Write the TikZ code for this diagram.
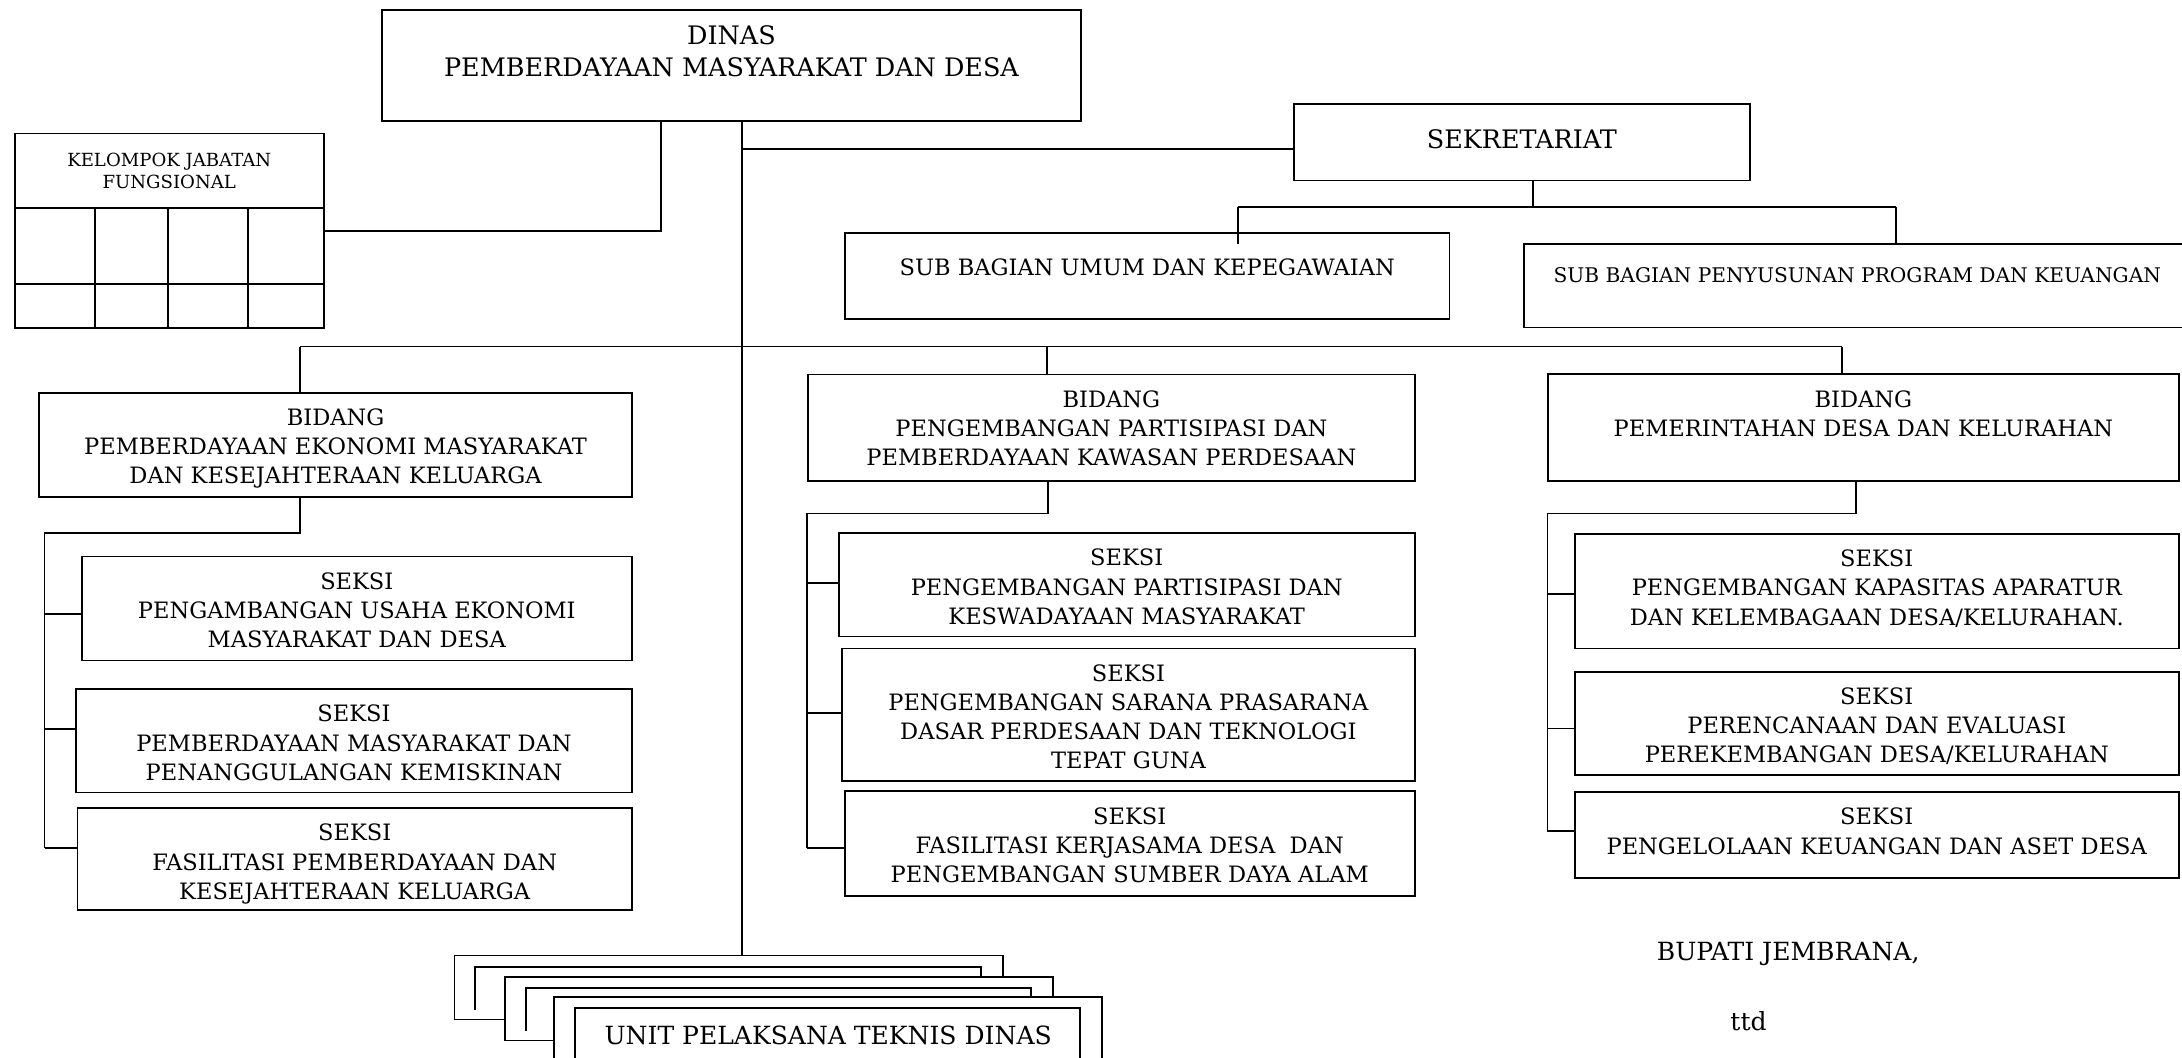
\documentclass[tikz,border=0pt]{standalone}
\usepackage{fontspec}
\setmainfont{DejaVu Serif}
\usetikzlibrary{positioning}

\tikzset{
  kotak/.style={draw, line width=1.3pt, anchor=north west, inner sep=0pt},
  kartu/.style={kotak, fill=white},
  teks/.style={align=center, inner sep=0pt, font=\fontsize{16.2}{21}\selectfont},
  teksbesar/.style={teks, font=\fontsize{18.3}{23}\selectfont},
  garis/.style={line width=1.3pt},
}

\begin{document}
\begin{tikzpicture}[x=1pt,y=-1pt]
\useasboundingbox (0,0) rectangle (1568,760);
\clip (0,0) rectangle (1568,760);

% kepala dinas
\node[kotak, minimum width=502pt, minimum height=80pt] (dinas) at (274,6.5) {};
\node[teksbesar, below=12pt of dinas.north] (dinasT) {DINAS\\PEMBERDAYAAN MASYARAKAT DAN DESA};

% kelompok jabatan fungsional
\node[kotak, minimum width=222pt, minimum height=53.7pt, align=center, font=\fontsize{13}{16}\selectfont] (kjf) at (10,95.3) {KELOMPOK JABATAN\\FUNGSIONAL};
\node[kotak, minimum width=222pt, minimum height=86pt] (kjfg) at (10,149) {};
\draw[garis] (68,149) -- (68,235);
\draw[garis] (121,149) -- (121,235);
\draw[garis] (178,149) -- (178,235);
\draw[garis] (10,204) -- (232,204);

% sekretariat
\node[kotak, minimum width=328pt, minimum height=55pt] (sek) at (929,74) {};
\node[teksbesar, below=19pt of sek.north] (sekT) {SEKRETARIAT};
\node[kotak, minimum width=434.5pt, minimum height=61.5pt] (subumum) at (606.5,167) {};
\node[teks, below=18.5pt of subumum.north] (subumumT) {SUB BAGIAN UMUM DAN KEPEGAWAIAN};
\node[kotak, minimum width=479pt, minimum height=60.3pt] (subpeny) at (1094.5,174.4) {};
\node[teks, font=\fontsize{14.5}{17}\selectfont, below=18pt of subpeny.north] (subpenyT) {SUB BAGIAN PENYUSUNAN PROGRAM DAN KEUANGAN};

% bidang
\node[kotak, minimum width=426pt, minimum height=75pt] (bid1) at (27.5,281.5) {};
\node[teks, below=12pt of bid1.north] (bid1T) {BIDANG\\PEMBERDAYAAN EKONOMI MASYARAKAT\\DAN KESEJAHTERAAN KELUARGA};
\node[kotak, minimum width=436pt, minimum height=76.5pt] (bid2) at (580,268.5) {};
\node[teks, below=12pt of bid2.north] (bid2T) {BIDANG\\PENGEMBANGAN PARTISIPASI DAN\\PEMBERDAYAAN KAWASAN PERDESAAN};
\node[kotak, minimum width=453.3pt, minimum height=76.7pt] (bid3) at (1111.7,268.3) {};
\node[teks, below=12.5pt of bid3.north] (bid3T) {BIDANG\\PEMERINTAHAN DESA DAN KELURAHAN};

% seksi bidang 1
\node[kotak, minimum width=395.5pt, minimum height=74.7pt] (s11) at (58,399.3) {};
\node[teks, below=12pt of s11.north] (s11T) {SEKSI\\PENGAMBANGAN USAHA EKONOMI\\MASYARAKAT DAN DESA};
\node[kotak, minimum width=399.5pt, minimum height=74.3pt] (s12) at (54,494.5) {};
\node[teks, below=12pt of s12.north] (s12T) {SEKSI\\PEMBERDAYAAN MASYARAKAT DAN\\PENANGGULANGAN KEMISKINAN};
\node[kotak, minimum width=398.5pt, minimum height=73.5pt] (s13) at (55,580) {};
\node[teks, below=12pt of s13.north] (s13T) {SEKSI\\FASILITASI PEMBERDAYAAN DAN\\KESEJAHTERAAN KELUARGA};

% seksi bidang 2
\node[kotak, minimum width=414pt, minimum height=74.3pt] (s21) at (602,382.4) {};
\node[teks, below=12pt of s21.north] (s21T) {SEKSI\\PENGEMBANGAN PARTISIPASI DAN\\KESWADAYAAN MASYARAKAT};
\node[kotak, minimum width=411.5pt, minimum height=95.2pt] (s22) at (604.5,465.3) {};
\node[teks, below=12pt of s22.north] (s22T) {SEKSI\\PENGEMBANGAN SARANA PRASARANA\\DASAR PERDESAAN DAN TEKNOLOGI\\TEPAT GUNA};
\node[kotak, minimum width=409.7pt, minimum height=75pt] (s23) at (606.3,568) {};
\node[teks, below=12pt of s23.north] (s23T) {SEKSI\\FASILITASI KERJASAMA DESA\ \ DAN\\PENGEMBANGAN SUMBER DAYA ALAM};

% seksi bidang 3
\node[kotak, minimum width=434pt, minimum height=82.4pt] (s31) at (1131,383) {};
\node[teks, below=12pt of s31.north] (s31T) {SEKSI\\PENGEMBANGAN KAPASITAS APARATUR\\DAN KELEMBAGAAN DESA/KELURAHAN.};
\node[kotak, minimum width=434pt, minimum height=74pt] (s32) at (1131,482) {};
\node[teks, below=12pt of s32.north] (s32T) {SEKSI\\PERENCANAAN DAN EVALUASI\\PEREKEMBANGAN DESA/KELURAHAN};
\node[kotak, minimum width=434pt, minimum height=61.4pt] (s33) at (1131,568.6) {};
\node[teks, below=12pt of s33.north] (s33T) {SEKSI\\PENGELOLAAN KEUANGAN DAN ASET DESA};

% unit pelaksana teknis
\node[kartu, minimum width=394pt, minimum height=46pt] (upt1) at (326,686) {};
\draw[garis] ([shift={(15.5,-7.5)}]upt1.south west) |- ([shift={(-16.5,9)}]upt1.north east) -- ([shift={(-16.5,-7.5)}]upt1.south east);
\node[kartu, minimum width=393.5pt, minimum height=45.5pt] (upt2) at (362.5,701.5) {};
\draw[garis] ([shift={(15.5,-7.5)}]upt2.south west) |- ([shift={(-16.5,8.5)}]upt2.north east) -- ([shift={(-16.5,-7.5)}]upt2.south east);
\node[kartu, minimum width=394pt, minimum height=60pt] (upt3) at (397.5,716) {};
\draw[garis] ([shift={(15.5,-7.5)}]upt3.south west) |- ([shift={(-16.5,8.6)}]upt3.north east) -- ([shift={(-16.5,-7.5)}]upt3.south east);
\node[teks, font=\fontsize{18}{22}\selectfont, below=21pt of upt3.north] (uptT) {UNIT PELAKSANA TEKNIS DINAS};

% tanda tangan
\node[teks, font=\fontsize{18}{22}\selectfont] (bupati) at (1285,685.7) {BUPATI JEMBRANA,};
\node[teks, font=\fontsize{18}{22}\selectfont] (ttd) at (1256.5,734) {ttd};

% garis komando
\coordinate (trunk) at (533,0);
\draw[garis] (dinas.south -| trunk) -- (upt1.north -| trunk);
\coordinate (kj) at (475,166);
\draw[garis] (dinas.south -| kj) -- (kj) -- (kjfg.east |- kj);
\coordinate (sj) at (533,107);
\draw[garis] (sj) -- (sek.west |- sj);
\coordinate (sb) at (1101.6,149);
\coordinate (sbl) at (889.6,149);
\coordinate (sbr) at (1362.3,149);
\coordinate (sbu) at (889.6,175);
\draw[garis] (sek.south -| sb) -- (sb);
\draw[garis] (sbl) -- (sbr);
\draw[garis] (sbl) -- (sbu);
\draw[garis] (sbr) -- (subpeny.north -| sbr);

\coordinate (bus1) at (215.5,249);
\coordinate (bus2) at (752.5,249);
\coordinate (bus3) at (1323.6,249);
\draw[garis] (bus1) -- (bus3);
\draw[garis] (bus1) -- (bid1.north -| bus1);
\draw[garis] (bus2) -- (bid2.north -| bus2);
\draw[garis] (bus3) -- (bid3.north -| bus3);

% bidang 1
\coordinate (st1) at (215.5,383);
\coordinate (k1) at (32,383);
\coordinate (t11) at (32,441);
\coordinate (t12) at (32,524);
\coordinate (t13) at (32,609.5);
\draw[garis] (bid1.south -| st1) -- (st1) -- (k1) -- (t13);
\draw[garis] (t11) -- (s11.west |- t11);
\draw[garis] (t12) -- (s12.west |- t12);
\draw[garis] (t13) -- (s13.west |- t13);

% bidang 2
\coordinate (st2) at (753,369);
\coordinate (k2) at (580,369);
\coordinate (t21) at (580,418.8);
\coordinate (t22) at (580,512.4);
\coordinate (t23) at (580,609.5);
\draw[garis] (bid2.south -| st2) -- (st2) -- (k2) -- (t23);
\draw[garis] (t21) -- (s21.west |- t21);
\draw[garis] (t22) -- (s22.west |- t22);
\draw[garis] (t23) -- (s23.west |- t23);

% bidang 3
\coordinate (st3) at (1334,369);
\coordinate (k3) at (1112,369);
\coordinate (t31) at (1112,427);
\coordinate (t32) at (1112,523.5);
\coordinate (t33) at (1112,597);
\draw[garis] (bid3.south -| st3) -- (st3) -- (k3) -- (t33);
\draw[garis] (t31) -- (s31.west |- t31);
\draw[garis] (t32) -- (s32.west |- t32);
\draw[garis] (t33) -- (s33.west |- t33);
\end{tikzpicture}
\end{document}
